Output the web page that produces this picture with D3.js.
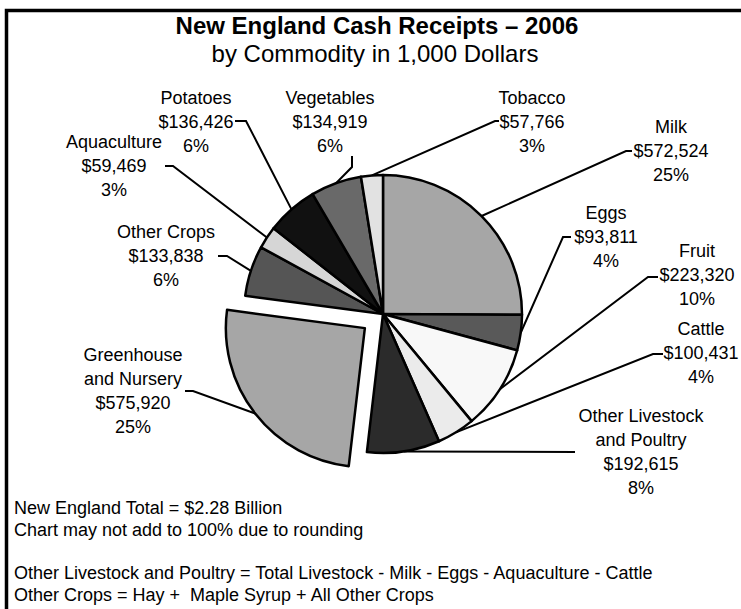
<!DOCTYPE html>
<html>
<head>
<meta charset="utf-8">
<script src="https://cdn.jsdelivr.net/npm/d3@7"></script>
<style>
  body { margin: 0; background: #fff; }
  svg { display: block; }
  text { font-family: "Liberation Sans", Arial, sans-serif; fill: #000; white-space: pre; }
</style>
</head>
<body>
<script>
const w = 741;
const h = 609;

// DATA (clockwise from 12 o'clock), values in 1,000 dollars
const categories = ["Milk", "Eggs", "Fruit", "Cattle", "Other Livestock and Poultry",
  "Greenhouse and Nursery", "Other Crops", "Aquaculture", "Potatoes", "Vegetables", "Tobacco"];
const receipts = [572524, 93811, 223320, 100431, 192615, 575920, 133838, 59469, 136426, 134919, 57766];
const shades = ["#a6a6a6", "#595959", "#f8f8f8", "#ebebeb", "#2b2b2b",
  "#a6a6a6", "#555555", "#d6d6d6", "#111111", "#696969", "#e2e2e2"];
const exploded = ["Greenhouse and Nursery"];
const notes = [
  "Chart may not add to 100% due to rounding",
  "",
  "Other Livestock and Poultry = Total Livestock - Milk - Eggs - Aquaculture - Cattle",
  "Other Crops = Hay +  Maple Syrup + All Other Crops"
];

// label layout: first baseline, leader knee and stub end
const layout = {
  "Milk": { x: 671, y: 133, lines: ["Milk"], knee: [626, 151], stub: [632, 151] },
  "Eggs": { x: 606, y: 219, lines: ["Eggs"], knee: [563, 237], stub: [571, 237] },
  "Fruit": { x: 697, y: 257, lines: ["Fruit"], knee: [648, 277], stub: [658, 277] },
  "Cattle": { x: 701, y: 335, lines: ["Cattle"], knee: [653, 354], stub: [663, 354] },
  "Other Livestock and Poultry": { x: 641, y: 422, lines: ["Other Livestock", "and Poultry"], knee: [575, 452], stub: null },
  "Greenhouse and Nursery": { x: 133, y: 361, lines: ["Greenhouse", "and Nursery"], knee: [193, 391], stub: [185, 391] },
  "Other Crops": { x: 166, y: 238, lines: ["Other Crops"], knee: [227, 256], stub: [218, 256] },
  "Aquaculture": { x: 114, y: 148, lines: ["Aquaculture"], knee: [173, 166], stub: [165, 166] },
  "Potatoes": { x: 196, y: 104, lines: ["Potatoes"], knee: [246, 121], stub: [235, 121] },
  "Vegetables": { x: 330, y: 104, lines: ["Vegetables"], knee: [352, 167], stub: [352, 156] },
  "Tobacco": { x: 532, y: 104, lines: ["Tobacco"], knee: [495, 121], stub: [499, 121] }
};

const cx = 383, cy = 314, r = 139, explode = 23;
const lineH = 24;
const total = d3.sum(receipts);

const svg = d3.select("body")
  .append("svg")
  .attr("width", w)
  .attr("height", h);

// FRAME
svg.append("rect")
  .attr("x", 6.5)
  .attr("y", 10.5)
  .attr("width", 800)
  .attr("height", 700)
  .attr("fill", "none")
  .attr("stroke", "#000")
  .attr("stroke-width", 3.5);

// PIE
const pie = d3.pie().sort(null).value(d => d.value);
const arc = d3.arc().innerRadius(0).outerRadius(r);
const slices = pie(categories.map((c, i) => ({ name: c, value: receipts[i], shade: shades[i] })));

const offset = d => {
  if (!exploded.includes(d.data.name)) return [0, 0];
  const a = (d.startAngle + d.endAngle) / 2;
  return [explode * Math.sin(a), -explode * Math.cos(a)];
};

const g = svg.append("g").attr("transform", `translate(${cx},${cy})`);

g.selectAll("path.slice")
  .data(slices)
  .join("path")
  .attr("class", "slice")
  .attr("transform", d => `translate(${offset(d)})`)
  .attr("d", arc)
  .attr("fill", d => d.data.shade)
  .attr("stroke", "#000")
  .attr("stroke-width", 2.5)
  .attr("stroke-linejoin", "round");

// LEADER LINES
svg.selectAll("path.leader")
  .data(slices)
  .join("path")
  .attr("class", "leader")
  .attr("fill", "none")
  .attr("stroke", "#000")
  .attr("stroke-width", 2)
  .attr("d", d => {
    const a = (d.startAngle + d.endAngle) / 2;
    const o = offset(d);
    const p = [cx + o[0] + r * Math.sin(a), cy + o[1] - r * Math.cos(a)];
    const L = layout[d.data.name];
    const pts = [p, L.knee];
    if (L.stub) pts.push(L.stub);
    return d3.line()(pts);
  });

// LABELS
const fmt = d3.format("$,");
const labels = svg.selectAll("text.label")
  .data(slices)
  .join("text")
  .attr("class", "label")
  .attr("text-anchor", "middle")
  .attr("font-size", 18);

labels.each(function(d) {
  const L = layout[d.data.name];
  const rows = L.lines.concat([fmt(d.data.value), Math.round(d.data.value / total * 100) + "%"]);
  d3.select(this).selectAll("tspan")
    .data(rows)
    .join("tspan")
    .attr("x", L.x)
    .attr("y", (t, i) => L.y + i * lineH)
    .text(t => t);
});

// TITLE
svg.append("text")
  .attr("x", 377)
  .attr("y", 34)
  .attr("text-anchor", "middle")
  .attr("font-size", 24)
  .attr("font-weight", "bold")
  .text("New England Cash Receipts \u2013 2006");

svg.append("text")
  .attr("x", 375)
  .attr("y", 62)
  .attr("text-anchor", "middle")
  .attr("font-size", 24)
  .text("by Commodity in 1,000 Dollars");

// NOTES (total is in thousands of dollars)
const noteRows = [`New England Total = $${(total / 1e6).toFixed(2)} Billion`].concat(notes);
const noteY = [514, 536, 558, 579, 601];
svg.append("g")
  .selectAll("text")
  .data(noteRows)
  .join("text")
  .attr("x", 14)
  .attr("y", (d, i) => noteY[i])
  .attr("font-size", 18)
  .text(d => d);
</script>
</body>
</html>
